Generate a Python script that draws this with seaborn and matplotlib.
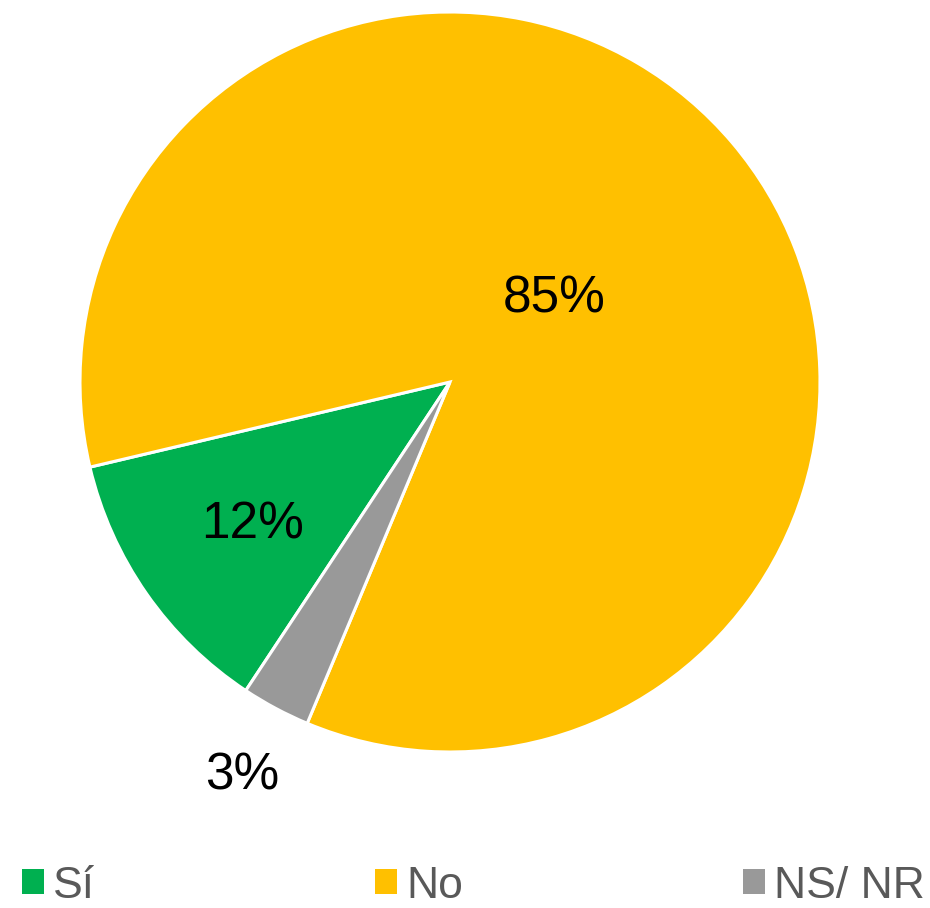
import numpy as np
import matplotlib
matplotlib.use('Agg')
import matplotlib.pyplot as plt
import seaborn as sns
from matplotlib.patches import Patch

# data
categories = ['Sí', 'No', 'NS/ NR']
values = [12, 85, 3]
colors = ['#00B050', '#FFC000', '#999999']
label_dist = [0.65, 0.37, 1.19]

sns.set_theme(style='white')
plt.rcParams['font.family'] = ['Liberation Sans', 'DejaVu Sans']

fig = plt.figure(figsize=(9.3, 9.08), dpi=100)
ax = fig.add_axes([80 / 930, 1 - 752 / 908, 740 / 930, 740 / 908])

wedges, _ = ax.pie(values, colors=colors, startangle=236.5, counterclock=False,
                   radius=1, wedgeprops=dict(edgecolor='white', linewidth=2.2))
ax.set_xlim(-1, 1)
ax.set_ylim(-1, 1)
ax.set_axis_off()

# percentage labels at wedge mid-angles
total = sum(values)
for w, v, d in zip(wedges, values, label_dist):
    mid = np.deg2rad((w.theta1 + w.theta2) / 2)
    ax.text(d * np.cos(mid), d * np.sin(mid) - 0.015, f'{v / total:.0%}',
            ha='center', va='center', fontsize=37, color='black')

handles = [Patch(facecolor=c, edgecolor='none') for c in colors]
fig.legend(handles, categories, loc='center left', bbox_to_anchor=(22 / 930, 1 - 886 / 908),
           ncol=3, frameon=False, fontsize=32, labelcolor='#595959',
           handlelength=0.5, handleheight=0.5, handletextpad=0.2,
           columnspacing=6.3, borderpad=0, borderaxespad=0)

fig.savefig('out.png', dpi=100)
